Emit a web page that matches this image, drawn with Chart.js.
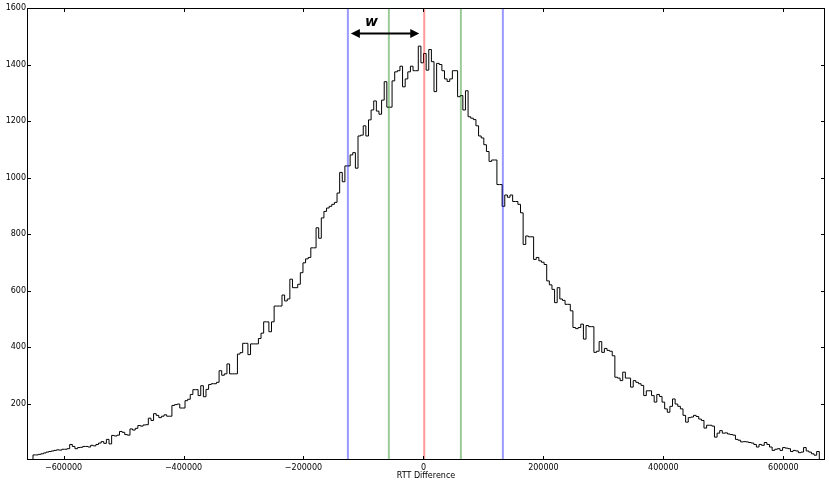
<!DOCTYPE html>
<html>
<head>
<meta charset="utf-8">
<script src="https://cdn.jsdelivr.net/npm/chart.js@4"></script>
<style>
  html, body { margin: 0; padding: 0; background: #fff; }
  #wrap { width: 829px; height: 481px; }
</style>
</head>
<body>
<div id="wrap"><canvas id="chart" width="829" height="481"></canvas></div>
<script>
// histogram of RTT differences (300 bins)
const binStart = -651000;
const binWidth = 4370;
const counts = [
  18, 18, 20, 22, 25, 28, 30, 32, 34, 36,
  35, 38, 38, 40, 55, 48, 40, 44, 45, 48,
  48, 46, 52, 50, 55, 60, 65, 59, 73, 57,
  87, 85, 88, 101, 98, 90, 88, 110, 106, 112,
  122, 120, 124, 125, 148, 140, 164, 158, 150, 155,
  160, 155, 155, 193, 196, 198, 184, 184, 210, 215,
  232, 249, 249, 228, 263, 224, 250, 267, 270, 270,
  275, 316, 300, 305, 340, 305, 305, 305, 375, 380,
  413, 413, 373, 411, 411, 411, 430, 449, 489, 489,
  454, 489, 545, 545, 545, 584, 563, 570, 640, 610,
  610, 622, 663, 698, 712, 717, 751, 751, 822, 785,
  857, 880, 892, 898, 905, 912, 945, 1018, 985, 1041,
  1041, 1080, 1088, 1033, 1147, 1150, 1183, 1147, 1204, 1239,
  1271, 1235, 1224, 1274, 1339, 1249, 1249, 1342, 1374, 1378,
  1394, 1321, 1349, 1374, 1394, 1378, 1378, 1465, 1406, 1439,
  1380, 1453, 1410, 1304, 1404, 1400, 1378, 1349, 1340, 1349,
  1378, 1378, 1286, 1290, 1239, 1307, 1215, 1210, 1205, 1183,
  1147, 1140, 1116, 1092, 1057, 1062, 1062, 975, 975, 898,
  938, 930, 938, 915, 915, 905, 875, 763, 793, 790,
  790, 710, 717, 705, 700, 692, 634, 620, 604, 557,
  610, 570, 565, 551, 551, 528, 469, 465, 469, 481,
  428, 476, 472, 472, 381, 385, 419, 381, 395, 388,
  385, 369, 293, 290, 281, 311, 290, 290, 258, 281,
  275, 270, 264, 228, 245, 245, 228, 205, 232, 225,
  205, 181, 169, 190, 216, 198, 190, 181, 158, 134,
  150, 152, 158, 154, 145, 140, 113, 123, 123, 120,
  81, 95, 104, 95, 96, 92, 90, 88, 73, 70,
  64, 65, 64, 62, 60, 55, 46, 55, 52, 62,
  55, 46, 34, 38, 40, 34, 44, 42, 40, 30,
  34, 32, 26, 28, 44, 32, 28, 22, 17, 30
];

const xTicks = [-600000, -400000, -200000, 0, 200000, 400000, 600000];
const yTicks = [200, 400, 600, 800, 1000, 1200, 1400, 1600];

// vertical markers: blue, green, red (centre), green, blue
const vLines = [-126000, -57700, 1300, 62400, 132400];
const vColors = ['rgba(0,0,255,0.4)', 'rgba(0,128,0,0.4)', 'rgba(255,0,0,0.4)', 'rgba(0,128,0,0.4)', 'rgba(0,0,255,0.4)'];

// the "w" arrow
const arrowFrom = -121000;
const arrowTo = -7000;
const arrowY = 1510;
const arrowLabel = 'w';
const arrowLabelX = -86700;
const arrowLabelY = 1549;

// step outline points
const histPoints = [{ x: binStart, y: 0 }];
counts.forEach((c, i) => histPoints.push({ x: binStart + i * binWidth, y: c }));
histPoints.push({ x: binStart + counts.length * binWidth, y: 0 });

const datasets = vLines.map((v, i) => ({
  data: [{ x: v, y: 0 }, { x: v, y: 1600 }],
  borderColor: vColors[i],
  borderWidth: 2,
  pointRadius: 0,
  fill: false
}));
datasets.push({
  data: histPoints,
  borderColor: '#000',
  borderWidth: 1,
  stepped: true,
  pointRadius: 0,
  fill: false
});

const frame = {
  id: 'frame',
  afterDatasetsDraw(chart) {
    const { ctx, chartArea: a, scales: { x, y } } = chart;
    ctx.save();
    ctx.strokeStyle = '#000';
    ctx.lineWidth = 1;
    ctx.strokeRect(a.left + 0.5, a.top + 0.5, a.right - a.left - 1, a.bottom - a.top - 1);
    // inward ticks on all sides
    ctx.beginPath();
    xTicks.forEach(v => {
      const px = Math.round(x.getPixelForValue(v)) + 0.5;
      ctx.moveTo(px, a.bottom); ctx.lineTo(px, a.bottom - 4);
      ctx.moveTo(px, a.top); ctx.lineTo(px, a.top + 4);
    });
    yTicks.forEach(v => {
      const py = Math.round(y.getPixelForValue(v)) + 0.5;
      ctx.moveTo(a.left, py); ctx.lineTo(a.left + 4, py);
      ctx.moveTo(a.right, py); ctx.lineTo(a.right - 4, py);
    });
    ctx.stroke();

    // double-headed arrow
    const x1 = x.getPixelForValue(arrowFrom);
    const x2 = x.getPixelForValue(arrowTo);
    const ay = y.getPixelForValue(arrowY);
    ctx.lineWidth = 2;
    ctx.beginPath();
    ctx.moveTo(x1 + 6, ay); ctx.lineTo(x2 - 6, ay);
    ctx.stroke();
    ctx.fillStyle = '#000';
    ctx.beginPath();
    ctx.moveTo(x1, ay); ctx.lineTo(x1 + 9, ay - 4.5); ctx.lineTo(x1 + 9, ay + 4.5); ctx.closePath();
    ctx.moveTo(x2, ay); ctx.lineTo(x2 - 9, ay - 4.5); ctx.lineTo(x2 - 9, ay + 4.5); ctx.closePath();
    ctx.fill();
    ctx.font = 'italic bold 14px "DejaVu Sans"';
    ctx.textAlign = 'center';
    ctx.textBaseline = 'middle';
    ctx.fillText(arrowLabel, x.getPixelForValue(arrowLabelX), y.getPixelForValue(arrowLabelY));
    ctx.restore();
  }
};

Chart.defaults.font.family = '"DejaVu Sans"';

new Chart(document.getElementById('chart'), {
  type: 'line',
  data: { datasets },
  options: {
    responsive: false,
    animation: false,
    layout: { padding: { top: 8, right: 4, left: 0, bottom: 0 } },
    plugins: { legend: { display: false }, tooltip: { enabled: false } },
    scales: {
      x: {
        type: 'linear',
        min: -661000,
        max: 669500,
        grid: { display: false, drawTicks: false },
        border: { display: false },
        afterBuildTicks: s => { s.ticks = xTicks.map(v => ({ value: v })); },
        afterFit: s => { s.height = 21; },
        ticks: {
          color: '#000',
          font: { size: 8 },
          padding: 3,
          maxRotation: 0,
          autoSkip: false,
          callback: v => v < 0 ? '\u2212' + Math.abs(v) : String(v)
        },
        title: { display: true, text: 'RTT Difference', color: '#000', font: { size: 8 }, padding: 0 }
      },
      y: {
        min: 0,
        max: 1600,
        grid: { display: false, drawTicks: false },
        border: { display: false },
        afterBuildTicks: s => { s.ticks = yTicks.map(v => ({ value: v })); },
        afterFit: s => { s.width = 27; },
        ticks: { color: '#000', font: { size: 8 }, padding: 1, callback: v => String(v) }
      }
    }
  },
  plugins: [frame]
});
</script>
</body>
</html>
